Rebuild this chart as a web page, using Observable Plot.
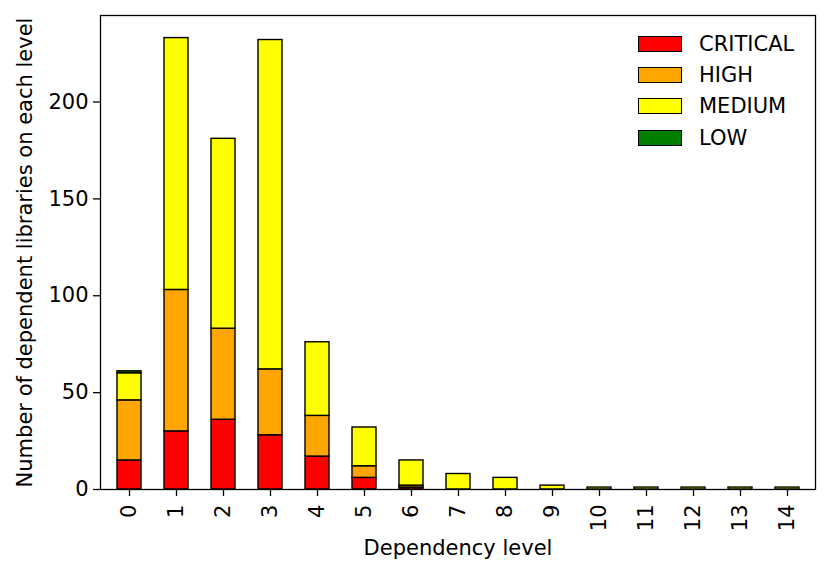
<!DOCTYPE html>
<html><head><meta charset="utf-8">
<script src="https://cdn.jsdelivr.net/npm/d3@7"></script>
<script src="https://cdn.jsdelivr.net/npm/@observablehq/plot@0.6"></script>
<style>
body{margin:0;background:#fff;font-family:"DejaVu Sans",sans-serif;}
#wrap{position:relative;width:830px;height:576px;}
#legend{position:absolute;left:638px;top:28px;font-size:21px;}
#legend .row{display:flex;align-items:center;height:31.3px;}
#legend .sw{width:44px;height:16px;border:1.3px solid #000;margin-right:17px;box-sizing:border-box;}
</style></head>
<body><div id="wrap"><div id="legend"></div></div>
<script>
const levels = [0,1,2,3,4,5,6,7,8,9,10,11,12,13,14];
const severities = ["CRITICAL","HIGH","MEDIUM","LOW"];
const colors = ["#ff0000","#ffa500","#ffff00","#008000"];
const critical = [15,30,36,28,17,6,1,0,0,0,0,0,0,0,0];
const high     = [31,73,47,34,21,6,1,0,0,0,0,0,0,0,0];
const medium   = [14,130,98,170,38,20,13,8,6,2,1,1,1,1,1];
const low      = [1,0,0,0,0,0,0,0,0,0,0,0,0,0,0];
const series = [critical, high, medium, low];

const rows = [];
levels.forEach((lv,i)=>{
  severities.forEach((s,j)=>{
    const v = series[j][i];
    if (v > 0) rows.push({level:String(lv), severity:s, count:v});
  });
});

const chart = Plot.plot({
  width:830, height:576,
  marginLeft:100, marginRight:15, marginTop:15, marginBottom:87,
  style:{fontFamily:"DejaVu Sans, sans-serif", fontSize:"21px", color:"#000"},
  x:{domain:levels.map(String), paddingInner:0.5, paddingOuter:0.25, label:null},
  y:{domain:[0,244.65], label:null},
  color:{domain:severities, range:colors},
  marks:[
    Plot.barY(rows,{x:"level", y:"count", fill:"severity", stroke:"#000", strokeWidth:1.4, order:severities}),
    Plot.frame({stroke:"#000", strokeWidth:1.3}),
    Plot.axisX({tickRotate:-90, tickSize:7, tickPadding:8, label:null, fontSize:21, strokeWidth:1.3}),
    Plot.axisY({ticks:[0,50,100,150,200], tickSize:7, tickPadding:5, label:null, fontSize:21, strokeWidth:1.3}),
    Plot.text(["Dependency level"],{frameAnchor:"bottom", dy:65, fontSize:21, fill:"#000"}),
    Plot.text(["Number of dependent libraries on each level"],{frameAnchor:"left", textAnchor:"middle", dx:-75, rotate:-90, fontSize:21, fill:"#000"})
  ]
});
document.getElementById("wrap").prepend(chart);
const lg = document.getElementById("legend");
severities.forEach((s,j)=>{
  const r = document.createElement("div"); r.className="row";
  r.innerHTML = `<div class="sw" style="background:${colors[j]}"></div><span>${s}</span>`;
  lg.appendChild(r);
});
</script></body></html>
